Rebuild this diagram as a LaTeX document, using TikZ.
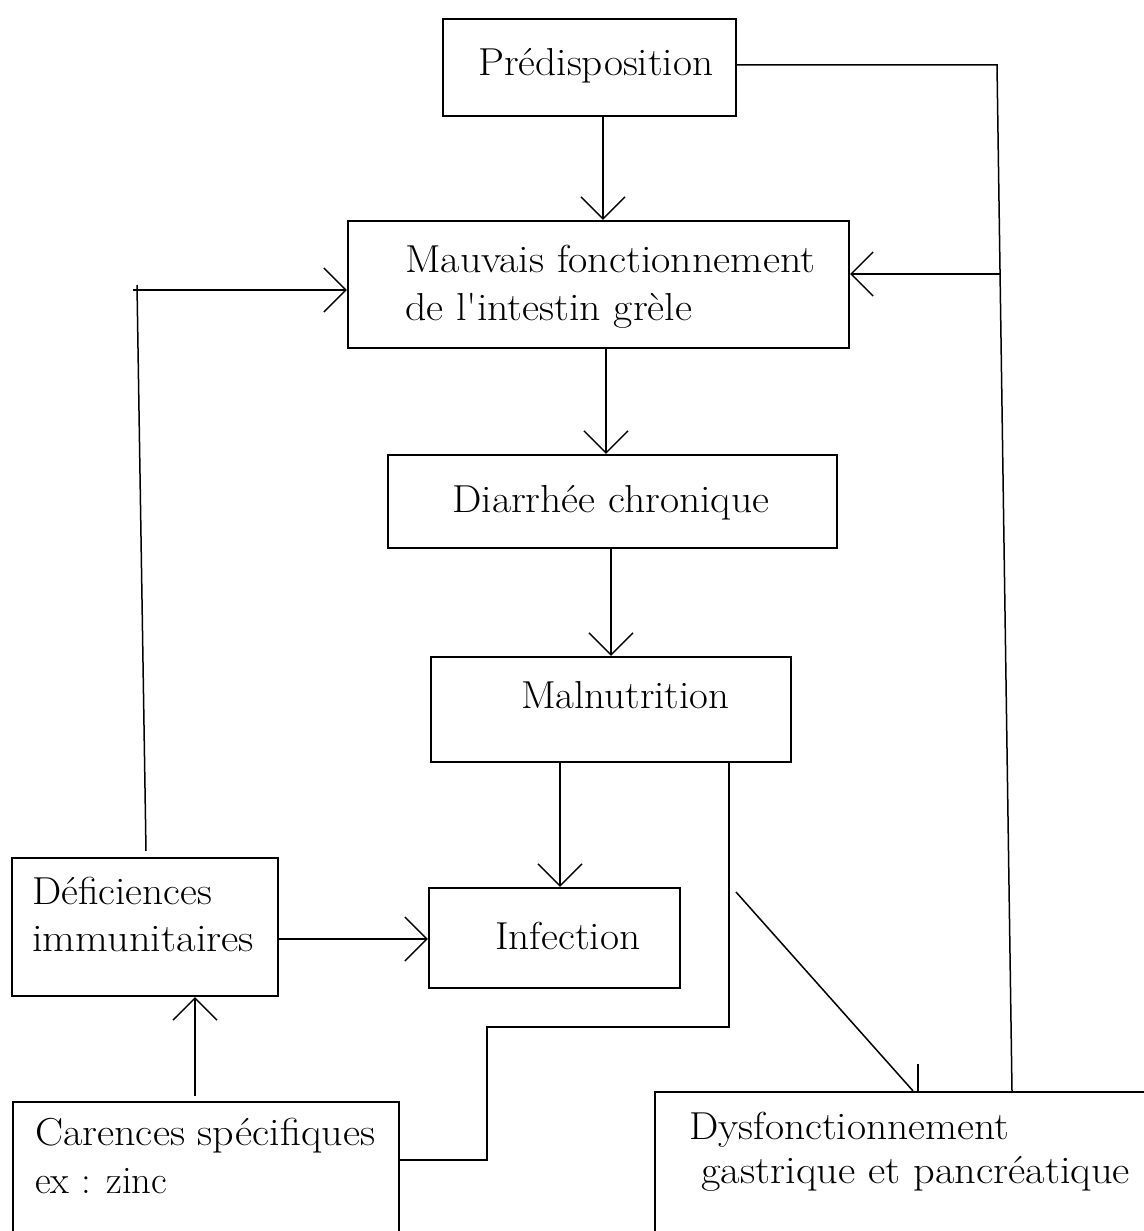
\documentclass[tikz,border=0pt]{standalone}
\usepackage{fontspec}
\usepackage{graphicx}
\usetikzlibrary{arrows.meta}

% text stretched to a given width, natural height kept
\newcommand{\wtxt}[2]{\resizebox{#1pt}{\height}{\fontsize{39}{46}\selectfont #2}}

\begin{document}
\begin{tikzpicture}[x=1pt,y=-1pt,
  box/.style={draw, line width=2.2pt, rectangle, inner sep=0pt},
  conn/.style={line width=1.5pt},
  arr/.style={conn, -{Straight Barb[length=22pt,width=44pt,line width=1.5pt]}},
  lbl/.style={anchor=base west, inner sep=0pt}]

\useasboundingbox[fill=white] (0,0) rectangle (1143,1231);

% boxes
\node[box, minimum width=293pt, minimum height=97pt]  (pred) at (589.5,67.5) {};
\node[box, minimum width=501pt, minimum height=127pt] (mauv) at (598.5,284.5) {};
\node[box, minimum width=449pt, minimum height=93pt]  (diar) at (612.5,501.5) {};
\node[box, minimum width=360pt, minimum height=105pt] (maln) at (611,709.5) {};
\node[box, minimum width=251pt, minimum height=100pt] (infe) at (554.5,938) {};
\node[box, minimum width=266pt, minimum height=138pt] (defi) at (145,927) {};
\node[box, minimum width=386pt, minimum height=158pt] (care) at (206,1181) {};
\node[box, minimum width=515pt, minimum height=168pt] (dysf) at (912.5,1176) {};

% labels
\node[lbl] (tpred)  at (478,75)   {\wtxt{235}{Prédisposition}};
\node[lbl] (tmauv1) at (405,272)  {\wtxt{410}{Mauvais fonctionnement}};
\node[lbl] (tmauv2) at (405,320)  {\wtxt{287}{de l\textquotesingle intestin grèle}};
\node[lbl] (tdiar)  at (452,512)  {\wtxt{317}{Diarrhée chronique}};
\node[lbl] (tmaln)  at (521,708)  {\wtxt{208}{Malnutrition}};
\node[lbl] (tinfe)  at (495,949)  {\wtxt{145}{Infection}};
\node[lbl] (tdefi1) at (32,904)   {\wtxt{180}{Déficiences}};
\node[lbl] (tdefi2) at (32,951)   {\wtxt{222}{immunitaires}};
\node[lbl] (tcare1) at (35,1145)  {\wtxt{340}{Carences spécifiques}};
\node[lbl] (tcare2) at (35,1193)  {\wtxt{132}{ex : zinc}};
\node[lbl] (tdysf1) at (689,1139) {\wtxt{320}{Dysfonctionnement}};
\node[lbl] (tdysf2) at (701,1183) {\wtxt{429}{gastrique et pancréatique}};

% routing points
\coordinate (lc) at (137,290);
\coordinate (rt) at (997,65);
\coordinate (rm) at (1000,274);
\coordinate (s1) at (487,1160);
\coordinate (s2) at (487,1027);
\coordinate (s3) at (729,1027);
\coordinate (dg) at (736,892);

% main chain
\draw[arr] ([xshift=13.5pt]pred.south) -- ([xshift=4.5pt]mauv.north);
\draw[arr] ([xshift=7.5pt]mauv.south) -- ([xshift=-6.5pt]diar.north);
\draw[arr] ([xshift=-1.5pt]diar.south) -- (maln.north);
\draw[arr] ([xshift=-51pt]maln.south) -- ([xshift=5.5pt]infe.north);
\draw[arr] ([yshift=-12pt]defi.east) -- ([yshift=-1pt]infe.west);
\draw[arr] ([xshift=-11pt,yshift=5pt]care.north) -- ([xshift=50pt]defi.south);

% feedback loops
\draw[conn] ([xshift=1pt,yshift=6pt]defi.north) -- ([yshift=5pt]lc);
\draw[arr] ([xshift=-4pt]lc) -- ([yshift=-5.5pt]mauv.west);
\draw[conn] ([yshift=2.5pt]pred.east) -- (rt) -- ([xshift=99.5pt]dysf.north);
\draw[arr] (rm) -- ([yshift=10.5pt]mauv.east);
\draw[conn] ([yshift=21pt]care.east) -- (s1) -- (s2) -- (s3) -- ([xshift=118pt]maln.south);
\draw[conn] (dg) -- ([xshift=0.5pt]dysf.north);
\draw[conn] ([xshift=5.5pt,yshift=27pt]dysf.north) -- ([xshift=5.5pt]dysf.north);

\end{tikzpicture}
\end{document}
